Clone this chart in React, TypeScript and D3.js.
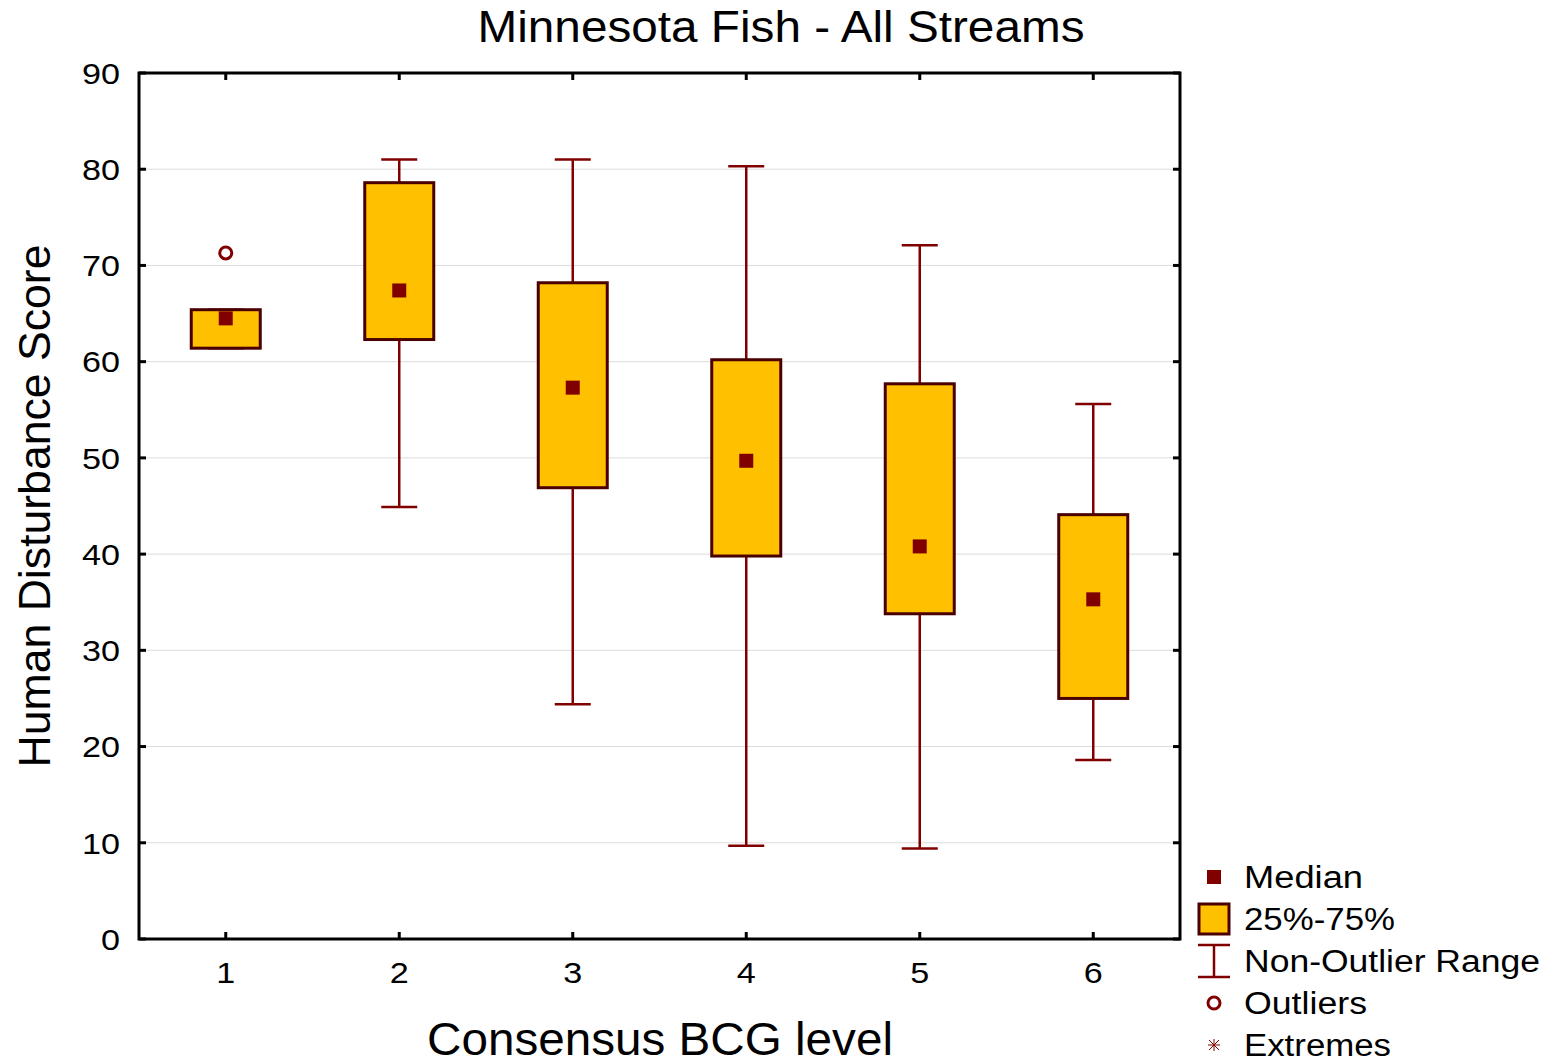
import React from "react";
import * as d3 from "d3";

const categories = [1, 2, 3, 4, 5, 6];
const q1Values = [61.4, 62.3, 46.9, 39.8, 33.8, 25.0];
const q3Values = [65.4, 78.6, 68.2, 60.2, 57.7, 44.1];
const medianValues = [64.5, 67.4, 57.3, 49.7, 40.8, 35.3];
const minValues = [61.4, 44.9, 24.4, 9.7, 9.4, 18.6];
const maxValues = [65.4, 81.0, 81.0, 80.3, 72.1, 55.6];
const outliers = [{ cat: 1, value: 71.3 }];
const yTicks = [0, 10, 20, 30, 40, 50, 60, 70, 80, 90];
const legendItems = ["Median", "25%-75%", "Non-Outlier Range", "Outliers", "Extremes"];
const legendWidths = [119, 151, 296, 123, 147];

const FONT = "'Liberation Sans', Arial, sans-serif";
const BOX_FILL = "#FFC000";
const BOX_STROKE = "#4a0000";
const WHISKER = "#800000";

export default function App() {
  const L = 139, R = 1180, T = 73, B = 939;
  const x = d3.scaleLinear().domain([0.5, 6.5]).range([L, R]);
  const y = d3.scaleLinear().domain([0, 90]).range([B, T]);
  const boxW = 69;
  const capW = 36;
  const med = 14;

  return (
    <svg width={1554} height={1063} style={{ position: "absolute", left: 0, top: 0 }} fontFamily={FONT}>
      <rect x={0} y={0} width={1554} height={1063} fill="#fff" />
      {/* grid */}
      {yTicks.slice(1, -1).map((t) => (
        <line key={"g" + t} x1={L} x2={R} y1={y(t)} y2={y(t)} stroke="#dcdcdc" strokeWidth={1} />
      ))}
      {/* boxes */}
      {categories.map((c, i) => {
        const cx = x(c);
        return (
          <g key={"b" + c}>
            <line x1={cx} x2={cx} y1={y(maxValues[i])} y2={y(q3Values[i])} stroke={WHISKER} strokeWidth={2.5} />
            <line x1={cx} x2={cx} y1={y(q1Values[i])} y2={y(minValues[i])} stroke={WHISKER} strokeWidth={2.5} />
            <line x1={cx - capW / 2} x2={cx + capW / 2} y1={y(maxValues[i])} y2={y(maxValues[i])} stroke={WHISKER} strokeWidth={2.5} />
            <line x1={cx - capW / 2} x2={cx + capW / 2} y1={y(minValues[i])} y2={y(minValues[i])} stroke={WHISKER} strokeWidth={2.5} />
            <rect
              x={cx - boxW / 2}
              y={y(q3Values[i])}
              width={boxW}
              height={y(q1Values[i]) - y(q3Values[i])}
              fill={BOX_FILL}
              stroke={BOX_STROKE}
              strokeWidth={3}
            />
            <rect x={cx - med / 2} y={y(medianValues[i]) - med / 2} width={med} height={med} fill={WHISKER} />
          </g>
        );
      })}
      {outliers.map((o, i) => (
        <circle key={"o" + i} cx={x(o.cat)} cy={y(o.value)} r={6} fill="none" stroke={WHISKER} strokeWidth={3} />
      ))}
      {/* frame */}
      <rect x={L} y={T} width={R - L} height={B - T} fill="none" stroke="#000" strokeWidth={3} />
      {/* y ticks */}
      {yTicks.map((t) => (
        <g key={"yt" + t}>
          <line x1={L} x2={L + 7} y1={y(t)} y2={y(t)} stroke="#000" strokeWidth={3} />
          <line x1={R - 7} x2={R} y1={y(t)} y2={y(t)} stroke="#000" strokeWidth={3} />
          <text
            x={120}
            y={y(t)}
            dy="0.36em"
            textAnchor="end"
            fontSize={30}
            fill="#000"
            textLength={String(t).length * 19}
            lengthAdjust="spacingAndGlyphs"
          >
            {t}
          </text>
        </g>
      ))}
      {/* x ticks */}
      {categories.map((c) => (
        <g key={"xt" + c}>
          <line x1={x(c)} x2={x(c)} y1={B} y2={B - 7} stroke="#000" strokeWidth={3} />
          <line x1={x(c)} x2={x(c)} y1={T} y2={T + 7} stroke="#000" strokeWidth={3} />
          <text x={x(c)} y={983} textAnchor="middle" fontSize={30} fill="#000" textLength={19} lengthAdjust="spacingAndGlyphs">
            {c}
          </text>
        </g>
      ))}
      {/* title & axis labels */}
      <text x={781} y={42} textAnchor="middle" fontSize={44} fill="#000" textLength={607} lengthAdjust="spacingAndGlyphs">
        Minnesota Fish - All Streams
      </text>
      <text x={660} y={1055} textAnchor="middle" fontSize={46} fill="#000" textLength={466} lengthAdjust="spacingAndGlyphs">
        Consensus BCG level
      </text>
      <text
        transform={`translate(50,506) rotate(-90)`}
        textAnchor="middle"
        fontSize={44}
        fill="#000"
        textLength={523}
        lengthAdjust="spacingAndGlyphs"
      >
        Human Disturbance Score
      </text>
      {/* legend */}
      {legendItems.map((item, i) => {
        const ly = 877 + i * 42;
        const lx = 1214;
        let sym: React.ReactNode = null;
        if (i === 0) sym = <rect x={lx - 7} y={ly - 7} width={14} height={14} fill={WHISKER} />;
        if (i === 1)
          sym = <rect x={lx - 15} y={ly - 15} width={30} height={30} fill={BOX_FILL} stroke={BOX_STROKE} strokeWidth={3} />;
        if (i === 2)
          sym = (
            <g stroke={WHISKER} strokeWidth={2.5}>
              <line x1={lx - 16} x2={lx + 16} y1={ly - 16} y2={ly - 16} />
              <line x1={lx - 16} x2={lx + 16} y1={ly + 16} y2={ly + 16} />
              <line x1={lx} x2={lx} y1={ly - 16} y2={ly + 16} />
            </g>
          );
        if (i === 3) sym = <circle cx={lx} cy={ly} r={6} fill="none" stroke={WHISKER} strokeWidth={3} />;
        if (i === 4)
          sym = (
            <g stroke={WHISKER} strokeWidth={1}>
              <line x1={lx - 6} x2={lx + 6} y1={ly} y2={ly} />
              <line x1={lx} x2={lx} y1={ly - 6} y2={ly + 6} />
              <line x1={lx - 5} x2={lx + 5} y1={ly - 5} y2={ly + 5} />
              <line x1={lx - 5} x2={lx + 5} y1={ly + 5} y2={ly - 5} />
            </g>
          );
        return (
          <g key={"l" + i}>
            {sym}
            <text
              x={1244}
              y={ly}
              dy="0.36em"
              fontSize={31}
              fill="#000"
              textLength={legendWidths[i]}
              lengthAdjust="spacingAndGlyphs"
            >
              {item}
            </text>
          </g>
        );
      })}
    </svg>
  );
}
